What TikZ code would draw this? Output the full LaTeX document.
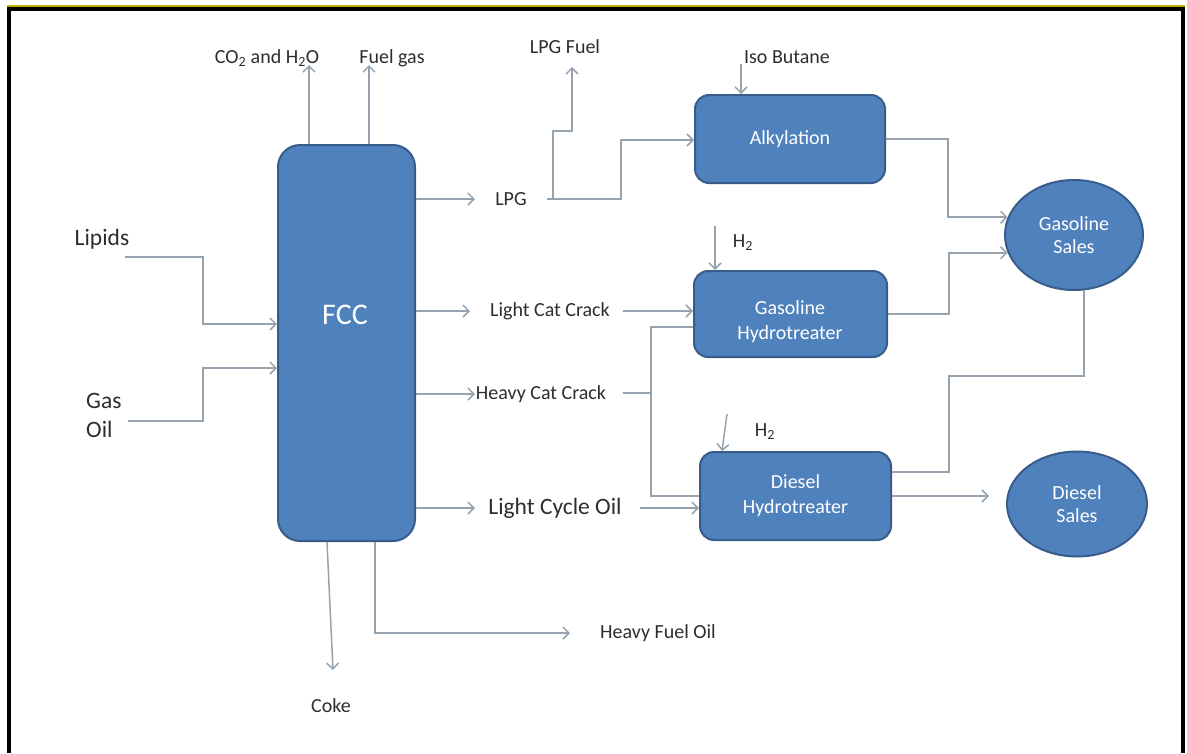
\documentclass[tikz,border=0pt]{standalone}
\usepackage{fontspec}
\setmainfont{Carlito}
\usetikzlibrary{arrows.meta,shapes.geometric,calc}
\definecolor{boxblue}{RGB}{79,129,189}
\definecolor{boxedge}{RGB}{56,93,138}
\definecolor{flowgray}{RGB}{150,162,174}
\definecolor{txt}{RGB}{45,45,45}
\definecolor{frameyellow}{RGB}{190,170,0}
\tikzset{
  unit/.style={draw=boxedge, line width=2pt, fill=boxblue, rounded corners=14pt, text=white,
    align=center, font=\fontsize{20}{25}\selectfont, inner sep=0pt},
  unittext/.style={text=white, align=center, font=\fontsize{20}{25}\selectfont, inner sep=0pt},
  sales/.style={ellipse, draw=boxedge, line width=2pt, fill=boxblue, text=white,
    align=center, font=\fontsize{20}{23}\selectfont, inner sep=0pt},
  lbl/.style={text=txt, font=\fontsize{20}{24}\selectfont, inner sep=0pt},
  biglbl/.style={text=txt, font=\fontsize{23.5}{29}\selectfont, inner sep=0pt},
  flow/.style={draw=flowgray, line width=1.5pt, -{Straight Barb[length=6pt,width=12pt]}},
  pipe/.style={draw=flowgray, line width=1.5pt},
}
\begin{document}
\begin{tikzpicture}[x=1pt,y=-1pt]
\useasboundingbox (0,0) rectangle (1187,753);
% frame
\draw[frameyellow, line width=1.5pt] (7,6) -- (1185,6);
\draw[black, line width=4pt] (9,753) -- (9,8.5) -- (1183,8.5) -- (1183,753);

% process units
\node[unit, minimum width=137pt, minimum height=396pt, rounded corners=22pt] (fcc) at (346.5,343) {};
\node[text=white, font=\fontsize{30}{36}\selectfont, inner sep=0pt] (fcclabel) at (345,315) {FCC};
\node[unit, minimum width=190pt, minimum height=88pt] (alk) at (790,139) {Alkylation};
\node[unit, minimum width=193pt, minimum height=86pt] (ght) at (790.5,314) {};
\node[unittext] (ghtlabel) at (790,322) {Gasoline\\Hydrotreater};
\node[unit, minimum width=191pt, minimum height=88pt] (dht) at (795.5,496) {Diesel\\Hydrotreater};
\node[sales, minimum width=138pt, minimum height=110pt] (gsales) at (1074,235) {Gasoline\\Sales};
\node[sales, minimum width=140pt, minimum height=105pt] (dsales) at (1077,504) {Diesel\\Sales};

% labels
\node[lbl] (co2) at (267,58) {CO\textsubscript{2} and H\textsubscript{2}O};
\node[lbl] (fuelgas) at (392,58) {Fuel gas};
\node[lbl] (lpgfuel) at (565,47) {LPG Fuel};
\node[lbl] (isobutane) at (787,57) {Iso Butane};
\node[lbl] (lpg) at (511,199) {LPG};
\node[lbl] (lcc) at (550,311) {Light Cat Crack};
\node[lbl] (hcc) at (541,394) {Heavy Cat Crack};
\node[biglbl] (lco) at (555,508) {Light Cycle Oil};
\node[lbl] (hfo) at (658,633) {Heavy Fuel Oil};
\node[lbl] (coke) at (331,706) {Coke};
\node[lbl] (h2a) at (743,243) {H\textsubscript{2}};
\node[lbl] (h2b) at (765,432) {H\textsubscript{2}};
\node[biglbl] (lipids) at (102,239) {Lipids};
\node[biglbl, align=left, anchor=west] (gasoil) at (86,415) {Gas\\Oil};

% free ends
\coordinate (co2tip) at (309,65);
\coordinate (fueltip) at (369,65);
\coordinate (lpgtip) at (475,199);
\coordinate (lpgout) at (547,199);
\coordinate (lpgfueltip) at (572,67);
\coordinate (lcctip) at (470,311);
\coordinate (lccout) at (623,311);
\coordinate (hcctip) at (475,394);
\coordinate (hccout) at (623,393);
\coordinate (split) at (651,393);
\coordinate (lcotip) at (475,508);
\coordinate (lcoout) at (640,508);
\coordinate (lipout) at (125,257);
\coordinate (goout) at (128,421);
\coordinate (coketip) at (333,670);
\coordinate (hfotip) at (570,633);

% FCC overheads
\draw[flow] (co2tip |- fcc.north) -- (co2tip);
\draw[flow] (fueltip |- fcc.north) -- (fueltip);

% feeds
\draw[flow] (lipout) -- ++(78,0) |- ([yshift=19pt]fcc.west);
\draw[flow] (goout) -- ++(75,0) |- ([yshift=-25pt]fcc.west);

% LPG
\draw[flow] (fcc.east |- lpgtip) -- (lpgtip);
\draw[flow] (lpgout) -- ++(74,0) |- ([yshift=-1pt]alk.west);
\draw[flow] ([xshift=6pt]lpgout) -- ++(0,-68) -| (lpgfueltip);
\draw[flow] ([xshift=47pt,yshift=30pt]alk.north west) -- ([xshift=47pt]alk.north west);

% cat crack streams
\draw[flow] (fcc.east |- lcctip) -- (lcctip);
\draw[flow] (lccout) -- (ght.west |- lccout);
\draw[flow] (fcc.east |- hcctip) -- (hcctip);
\draw[pipe] (hccout) -- (split);
\draw[pipe] ([yshift=-13pt]ght.west) -| (split) |- (dht.west);
\draw[flow] (fcc.east |- lcotip) -- (lcotip);
\draw[flow] (lcoout) -- (dht.west |- lcoout);

% hydrogen
\draw[flow] ([xshift=22pt,yshift=44pt]ght.north west) -- ([xshift=22pt]ght.north west);
\draw[flow] ([xshift=28pt,yshift=37pt]dht.north west) -- ([xshift=23pt]dht.north west);

% products
\draw[flow] (alk.east) -- ++(62,0) |- (gsales.165);
\draw[flow] (ght.east) -- ++(61,0) |- (gsales.195);
\draw[pipe] ([yshift=24pt]dht.east) -- ++(57,0) -- ++(0,-96) -| (gsales.280);
\draw[flow] (dht.east) -- ++(97,0);

% bottoms
\draw[flow] ([xshift=50pt]fcc.south west) -- (coketip);
\draw[flow] ([xshift=98pt]fcc.south west) |- (hfotip);
\end{tikzpicture}
\end{document}
